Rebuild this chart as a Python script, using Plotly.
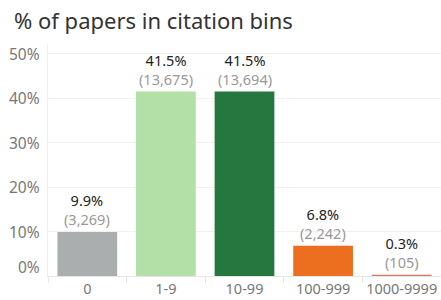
import plotly.graph_objects as go

categories = ["0", "1-9", "10-99", "100-999", "1000-9999"]
percents = [9.9, 41.5, 41.5, 6.8, 0.3]
counts = [3269, 13675, 13694, 2242, 105]
colors = ["#abaeae", "#b3e0a6", "#267640", "#ec6e1f", "#d9785a"]
ytick_vals = [0, 10, 20, 30, 40, 50]
ytick_text = ["0%", "10%", "20%", "30%", "40%", "50%"]

FONT = "Noto Sans"
xs = list(range(len(categories)))

fig = go.Figure()
fig.add_trace(go.Bar(
    x=xs, y=percents, marker=dict(color=colors, line=dict(width=0)),
    width=0.76, hoverinfo="skip",
))

annotations = []
for x, p, c in zip(xs, percents, counts):
    annotations.append(dict(
        x=x, y=p, xref="x", yref="y", yanchor="bottom", yshift=1,
        showarrow=False,
        text=f"<span style='color:#222'>{p:.1f}%</span><br>"
             f"<span style='color:#999'>({c:,})</span>",
        font=dict(family=FONT, size=14.5),
    ))
for v, t in zip(ytick_vals, ytick_text):
    annotations.append(dict(
        x=0, xref="paper", xanchor="right", xshift=-6,
        y=v, yref="y", yanchor="middle", yshift=9 if v == 0 else 0,
        showarrow=False, text=t,
        font=dict(family=FONT, size=15.5, color="#777"),
    ))
annotations.append(dict(
    x=0, xref="paper", xanchor="left", xshift=-36,
    y=1, yref="paper", yanchor="middle", yshift=24,
    showarrow=False, text="% of papers in citation bins",
    font=dict(family=FONT, size=22, color="#333"),
))

fig.update_layout(
    width=441, height=300,
    margin=dict(l=48, r=0, t=44, b=24),
    paper_bgcolor="white", plot_bgcolor="white",
    showlegend=False,
    hovermode=False,
    annotations=annotations,
    xaxis=dict(
        range=[-0.5, 4.5], tickvals=xs, ticktext=categories,
        ticks="", showgrid=False, zeroline=False,
        showline=True, linecolor="#e6e6e6", linewidth=1,
        tickfont=dict(family=FONT, size=14.5, color="#777"),
        minor=dict(tick0=-0.5, dtick=1, ticks="outside", ticklen=6,
                   tickcolor="#e6e6e6", showgrid=False),
    ),
    yaxis=dict(
        range=[0, 52.2], tickvals=ytick_vals, showticklabels=False,
        ticks="", showgrid=True, gridcolor="#f0f0f0", gridwidth=1,
        zeroline=False, showline=True, linecolor="#eeeeee", linewidth=1,
    ),
)

fig.write_html(
    "out.html",
    config={"displayModeBar": False, "staticPlot": True},
    post_script="document.body.style.margin='0';document.body.style.overflow='hidden';",
)
